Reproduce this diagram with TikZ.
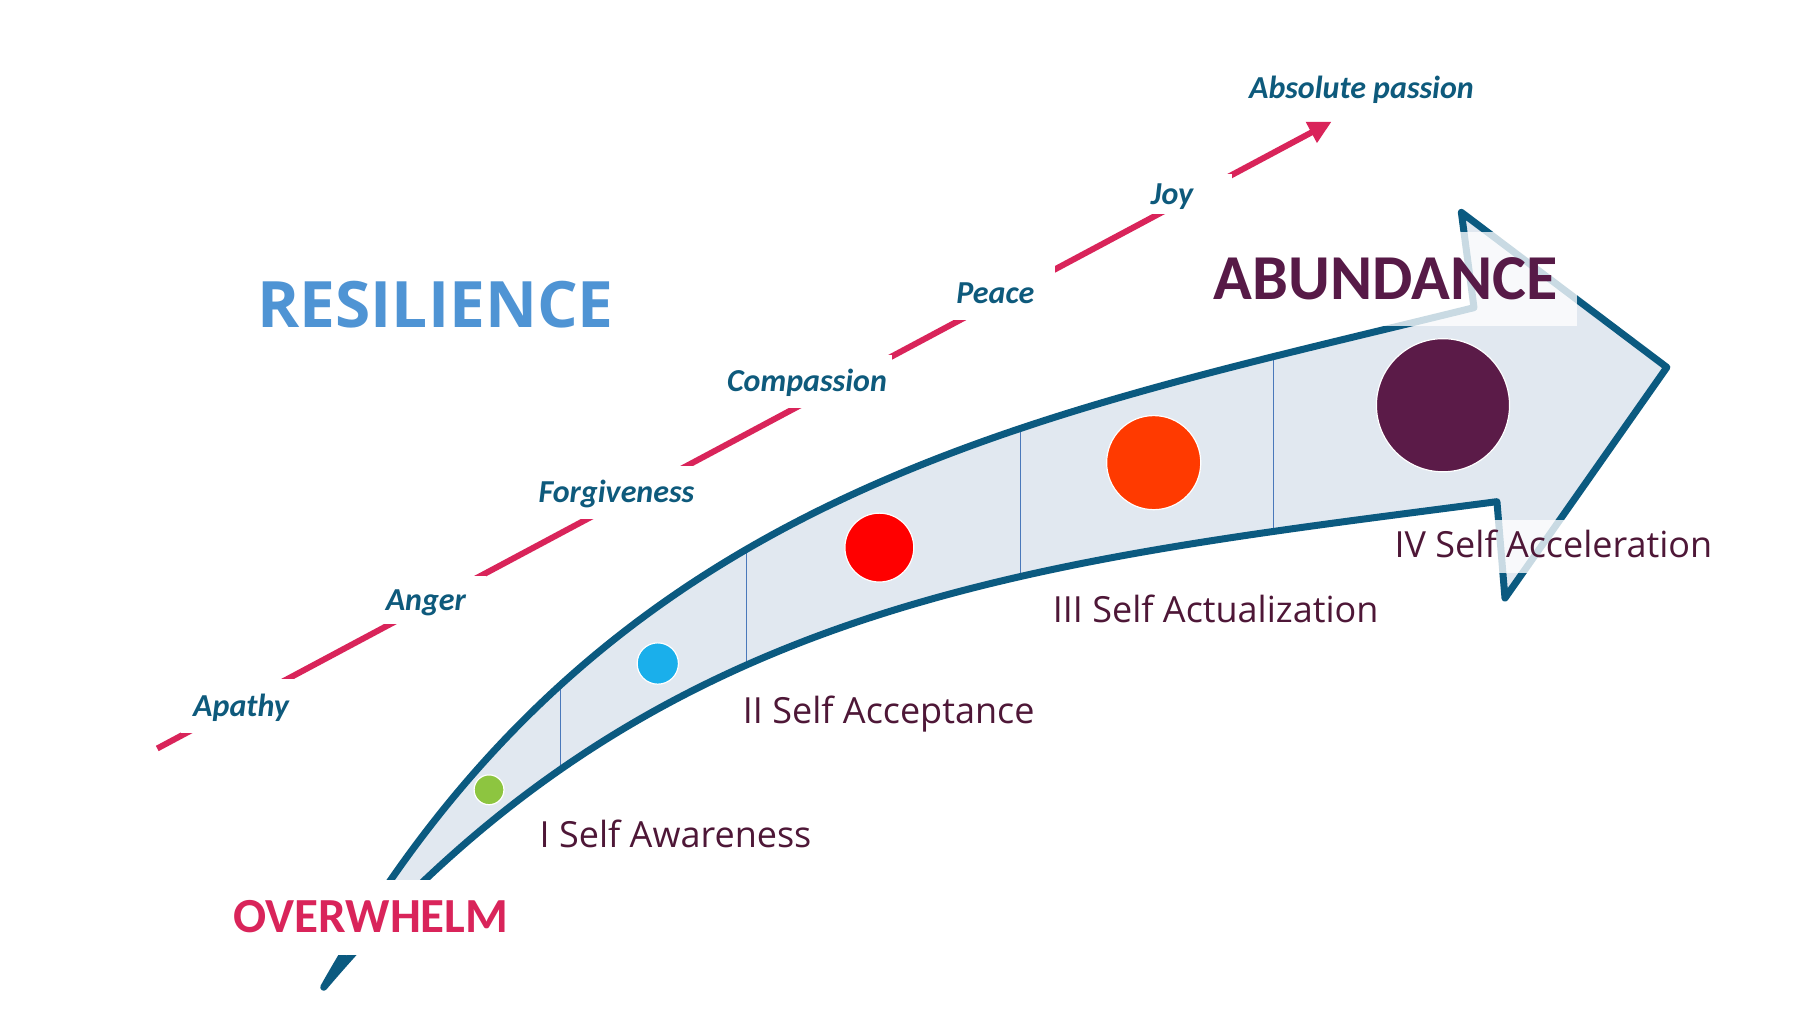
\documentclass[tikz,border=0pt]{standalone}
\usepackage{fontspec}
\setmainfont{Open Sans}
\newfontfamily\calfont{Carlito}
\usepackage{tikz}
\usetikzlibrary{arrows.meta,calc}
\usepackage{xcolor}

\definecolor{arrowfill}{HTML}{E1E8F0}
\definecolor{arrowline}{HTML}{0B5A80}
\definecolor{pathred}{HTML}{D9245A}
\definecolor{feelblue}{HTML}{0E5A7C}
\definecolor{sky}{HTML}{4F94D4}
\definecolor{plum}{HTML}{571A47}
\definecolor{stagetxt}{HTML}{4E1737}
\definecolor{divider}{HTML}{4A78BA}
\definecolor{dotgreen}{HTML}{8DC540}
\definecolor{dotblue}{HTML}{1AAFEB}
\definecolor{dotred}{HTML}{FF0000}
\definecolor{dotorange}{HTML}{FF3A00}
\definecolor{dotplum}{HTML}{5B1B48}

\newcommand{\arrowshape}{(282,860) .. controls (527,425) and (896,364) .. (1284,268)
  -- (1273,185) -- (1452,320) -- (1311,521) -- (1304,437)
  .. controls (900,490) and (570,520) .. (282,860) -- cycle}

\begin{document}
\begin{tikzpicture}[x=1.148pt,y=-1.148pt,
    redline/.style={draw=pathred,line width=6pt,-{Triangle[length=23pt,width=22pt]}},
    feel/.style={font=\calfont\bfseries\itshape\fontsize{32pt}{34pt}\selectfont,text=feelblue,
      fill=white,inner xsep=5pt,inner ysep=0pt,minimum width=120pt,text height=20.6pt,text depth=0pt},
    stage/.style={anchor=base west,text=stagetxt,font=\fontsize{36pt}{40pt}\selectfont,
      inner sep=0pt,text height=27pt,text depth=0pt},
    dot/.style={circle,draw=white,line width=1.2pt,inner sep=0pt},
    veil/.style={fill=white,fill opacity=0.78,text opacity=1}]
  \fill[white] (0,0) rectangle (1568,897);
  \useasboundingbox (0,0) rectangle (1568,897);

  \coordinate (low) at (137,652);
  \coordinate (high) at (1160,106);
  \draw[redline] (low) -- (high);
  \foreach \n/\t/\x/\y/\h in
    {apathy/Apathy/210/615/47,
     anger/Anger/371/523/42,
     forgive/Forgiveness/537/429/46,
     compassion/Compassion/703/332/46,
     peace/Peace/867/255/47,
     joy/Joy/1021/169/35}
    \node[feel,minimum height=\h*1.148pt] (\n) at (\x,\y) {\t};
  \node[feel,fill=none] (passion) at (1186,77) {Absolute passion};

  \node[font=\bfseries\fontsize{64pt}{70pt}\selectfont,text=sky,anchor=base] (resil) at (379.5,285) {RESILIENCE};

  \begin{scope}
    \clip \arrowshape;
    \fill[arrowfill] (0,0) rectangle (1568,897);
    \foreach \x in {488,650,889,1109}
      \draw[divider,line width=1.1pt] (\x,150) -- (\x,760);
  \end{scope}
  \draw[arrowline,line width=7pt,line join=round] \arrowshape;

  \foreach \c/\x/\y/\r [count=\i] in
    {dotgreen/426/688/13,
     dotblue/573/578/18,
     dotred/766/477/30,
     dotorange/1005/403/41,
     dotplum/1257/353/58}
    \node[dot,fill=\c,minimum size=2*\r*1.148pt] (d\i) at (\x,\y) {};

  \foreach \t/\x/\y [count=\i] in
    {I Self Awareness/470/738,
     II Self Acceptance/647/630,
     III Self Actualization/917/542.5}
    \node[stage] (s\i) at (\x,\y) {\t};
  \node[stage,veil,inner xsep=10pt,inner ysep=11pt,text depth=4pt] (s4) at (1206,486) {IV Self Acceleration};

  \node[veil,font=\calfont\bfseries\fontsize{64pt}{70pt}\selectfont,text=plum,
    minimum width=383pt,minimum height=94pt,text height=41pt,text depth=0pt] (abund) at (1207,243) {ABUNDANCE};
  \node[fill=white,font=\calfont\bfseries\fontsize{49pt}{54pt}\selectfont,text=pathred,
    inner xsep=10pt,minimum height=75pt,text height=31.5pt,text depth=0pt] (over) at (323,799) {OVERWHELM};
\end{tikzpicture}
\end{document}
